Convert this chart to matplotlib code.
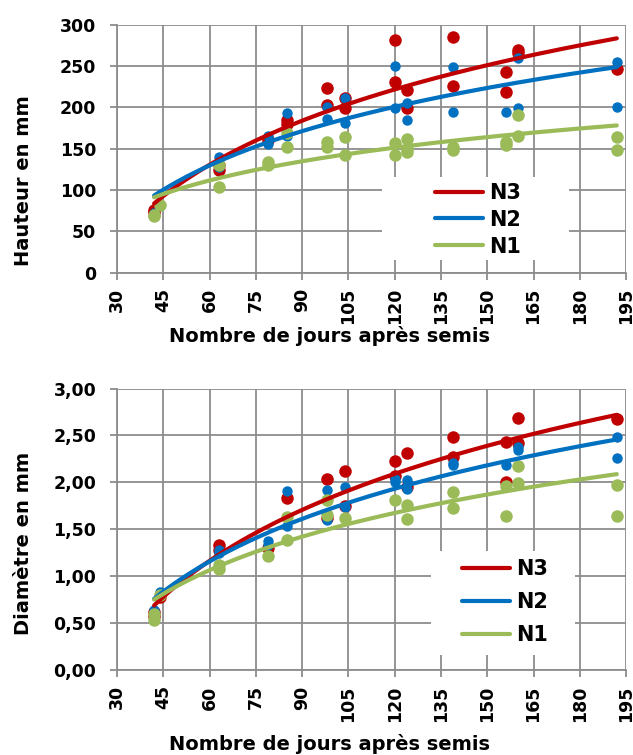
import numpy as np
import matplotlib
matplotlib.use("Agg")
import matplotlib.pyplot as plt
from matplotlib.patches import Rectangle
from matplotlib.ticker import FuncFormatter

plt.rcParams['font.family'] = ['DejaVu Sans']
plt.rcParams['font.weight'] = 'bold'

labels = ['N3', 'N2', 'N1']
colors = ['#C00000', '#0070C0', '#9BBB59']
msizes = [9, 7.5, 9]

# Hauteur (mm) -- jours / valeurs
h_n3_days = [42, 42, 63, 63, 79, 85, 85, 98, 98, 104, 104, 120, 120, 124, 124, 139, 139, 156, 156, 160, 160, 192]
h_n3_vals = [73, 76, 130, 124, 160, 185, 180, 223, 203, 211, 199, 282, 231, 221, 199, 285, 226, 243, 219, 270, 266, 246]
h_n2_days = [42, 42, 63, 63, 79, 79, 85, 85, 98, 98, 104, 104, 120, 120, 124, 124, 139, 139, 156, 160, 160, 192, 192]
h_n2_vals = [72, 70, 140, 128, 166, 156, 193, 166, 201, 186, 211, 181, 250, 199, 205, 185, 249, 195, 195, 260, 199, 255, 201]
h_n1_days = [42, 42, 44, 63, 63, 79, 79, 85, 85, 98, 98, 104, 104, 120, 120, 124, 124, 124, 139, 139, 156, 156, 160, 160, 192, 192]
h_n1_vals = [68, 70, 82, 130, 104, 134, 130, 169, 152, 158, 152, 164, 142, 157, 142, 162, 150, 146, 152, 148, 158, 155, 191, 166, 164, 149]

# Diametre (mm)
d_n3_days = [42, 42, 44, 63, 63, 79, 85, 98, 98, 104, 104, 120, 120, 124, 124, 139, 139, 156, 156, 160, 160, 192]
d_n3_vals = [0.62, 0.58, 0.78, 1.33, 1.28, 1.30, 1.83, 2.04, 1.62, 2.12, 1.75, 2.23, 2.07, 2.31, 1.95, 2.48, 2.27, 2.43, 2.00, 2.69, 2.42, 2.67]
d_n2_days = [42, 42, 44, 63, 63, 79, 79, 85, 85, 98, 98, 104, 104, 120, 120, 124, 124, 139, 139, 156, 156, 160, 160, 192, 192]
d_n2_vals = [0.64, 0.58, 0.83, 1.28, 1.25, 1.38, 1.33, 1.91, 1.53, 1.92, 1.60, 1.95, 1.74, 2.04, 2.00, 2.02, 1.93, 2.21, 2.18, 2.18, 1.64, 2.38, 2.34, 2.48, 2.26]
d_n1_days = [42, 42, 44, 63, 63, 79, 85, 85, 98, 98, 104, 120, 124, 124, 139, 139, 156, 156, 160, 160, 192, 192]
d_n1_vals = [0.60, 0.53, 0.80, 1.12, 1.08, 1.21, 1.63, 1.39, 1.81, 1.65, 1.62, 1.81, 1.76, 1.61, 1.90, 1.73, 1.96, 1.64, 2.17, 1.99, 1.97, 1.64]

x_ticks = list(range(30, 196, 15))
GRID = '#8c8c8c'


def draw_panel(ax, series, ylim, ystep, ylabel, fmt, box, leg_anchor, leg_space):
    ax.set_axisbelow(True)
    for (days, vals), col, ms in zip(series, colors, msizes):
        ax.plot(days, vals, 'o', color=col, markersize=ms, markeredgewidth=0, zorder=3)
    handles = []
    for (days, vals), col, lab in zip(series, colors, labels):
        # courbe de tendance logarithmique (comme Excel)
        a, b = np.polyfit(np.log(days), vals, 1)
        xs = np.linspace(min(days), max(days), 200)
        h, = ax.plot(xs, a * np.log(xs) + b, color=col, lw=3, zorder=4, label=lab, solid_capstyle='round')
        handles.append(h)

    ax.set_xlim(30, 195)
    ax.set_ylim(0, ylim)
    ax.set_xticks(x_ticks)
    ax.set_yticks(np.arange(0, ylim + ystep / 2, ystep))
    ax.yaxis.set_major_formatter(FuncFormatter(fmt))
    ax.grid(True, color=GRID, lw=1.3)
    for s in ['top', 'right']:
        ax.spines[s].set_visible(False)
    for s in ['left', 'bottom']:
        ax.spines[s].set_color(GRID)
        ax.spines[s].set_linewidth(1.3)
    ax.tick_params(axis='both', colors=GRID, labelcolor='black', labelsize=12.5, length=5, width=1.3)
    ax.tick_params(axis='y', pad=10)
    ax.tick_params(axis='x', pad=6, labelrotation=90)
    ax.set_ylabel(ylabel, fontsize=14, fontweight='bold')
    ax.set_xlabel('Nombre de jours après semis', fontsize=14, fontweight='bold')

    # fond blanc de la légende (masque la grille)
    ax.add_patch(Rectangle(box[:2], box[2], box[3], transform=ax.transAxes,
                           facecolor='white', edgecolor='none', zorder=1))
    ax.legend(handles=handles, loc='upper left', bbox_to_anchor=leg_anchor, frameon=False,
              handlelength=2.3, handletextpad=0.3, labelspacing=leg_space,
              borderpad=0, borderaxespad=0, prop={'size': 15, 'weight': 'bold'})


fig = plt.figure(figsize=(6.33, 7.55), dpi=100)
ax1 = fig.add_axes([0.185, 0.639, 0.804, 0.328])
ax2 = fig.add_axes([0.185, 0.1126, 0.804, 0.3728])

draw_panel(ax1, [(h_n3_days, h_n3_vals), (h_n2_days, h_n2_vals), (h_n1_days, h_n1_vals)],
           300, 50, 'Hauteur en mm', lambda v, p: '%d' % v,
           (0.520, 0.050, 0.367, 0.336), (0.624, 0.362), 0.33)
draw_panel(ax2, [(d_n3_days, d_n3_vals), (d_n2_days, d_n2_vals), (d_n1_days, d_n1_vals)],
           3.0, 0.5, 'Diamètre en mm', lambda v, p: ('%.2f' % v).replace('.', ','),
           (0.616, 0.055, 0.283, 0.368), (0.677, 0.395), 0.63)

ax1.yaxis.set_label_coords(-0.165, 0.37)
ax2.yaxis.set_label_coords(-0.165, 0.45)
ax1.xaxis.set_label_coords(0.418, -0.215)
ax2.xaxis.set_label_coords(0.418, -0.228)

fig.savefig('out.png', dpi=100)
